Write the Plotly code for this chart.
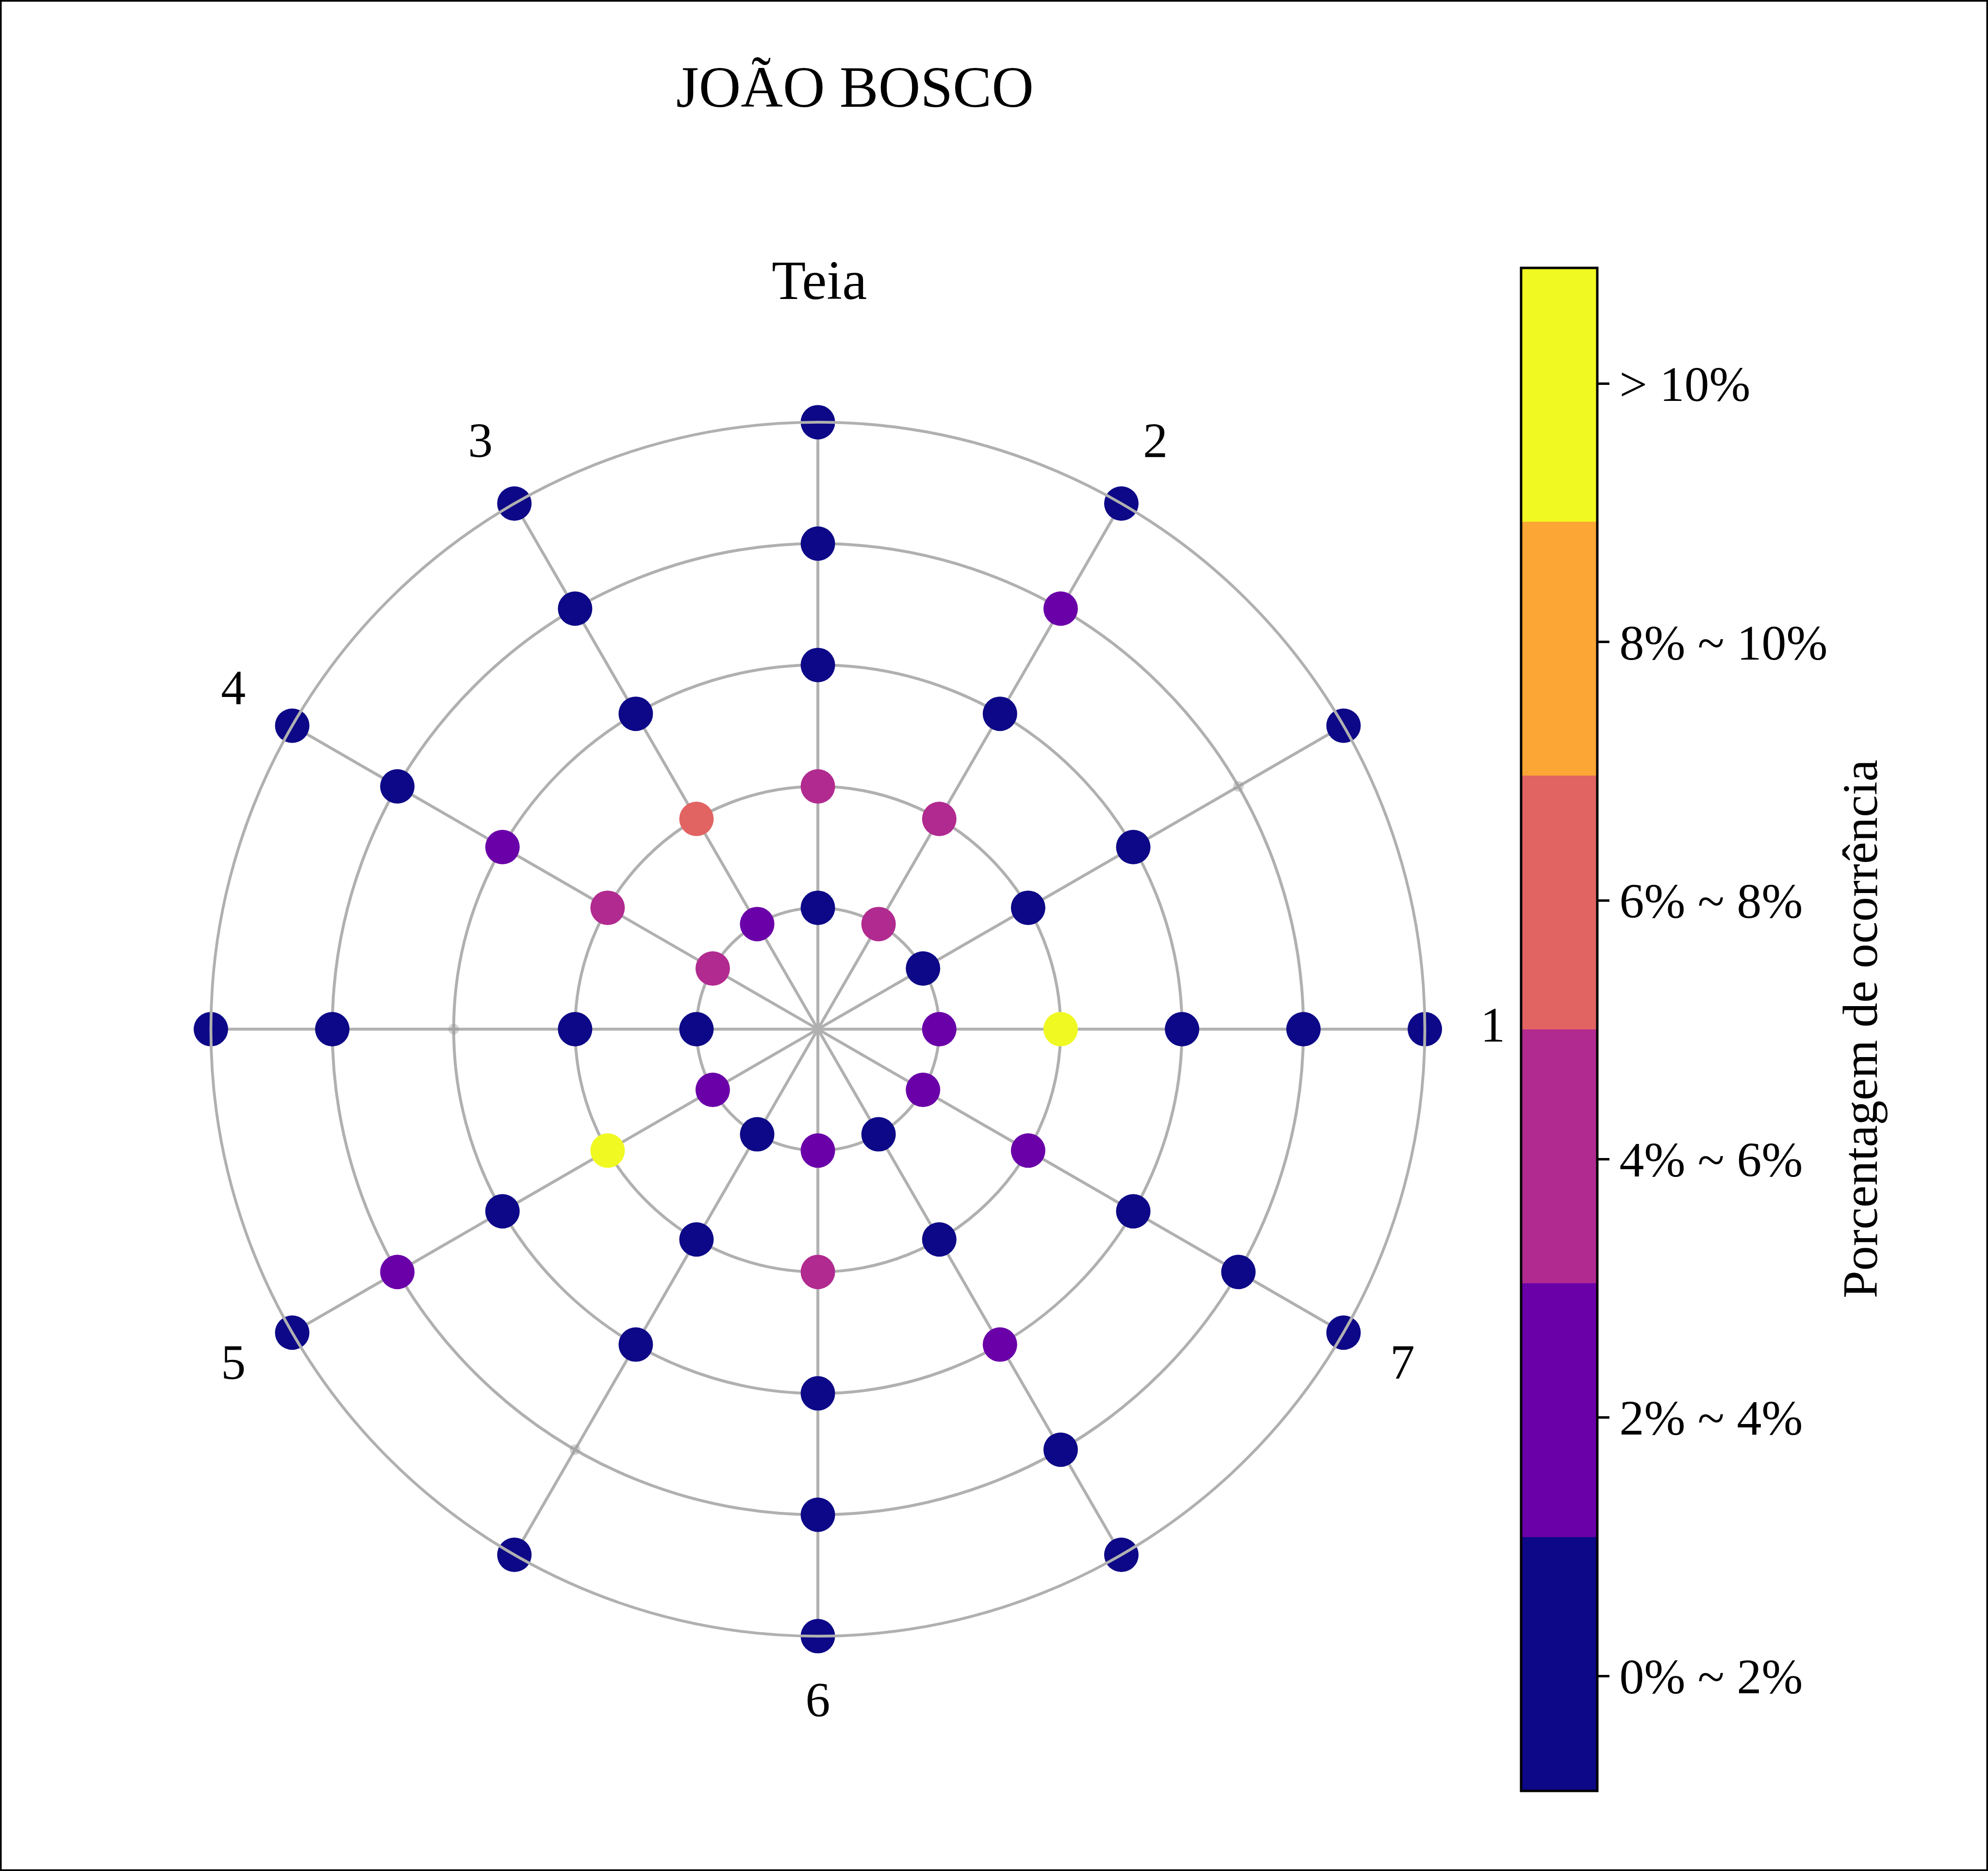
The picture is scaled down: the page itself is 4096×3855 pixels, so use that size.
import plotly.graph_objects as go

# ---------------- data ----------------
angles = [0, 30, 60, 90, 120, 150, 180, 210, 240, 270, 300, 330]
rings = [1, 2, 3, 4, 5]
nan = None
# estimated percentage of occurrence per node (ring x angle)
ring1 = [3, 1, 5, 1, 3, 5, 1, 3, 1, 3, 1, 3]
ring2 = [11, 1, 5, 5, 7, 5, 1, 11, 1, 5, 1, 3]
ring3 = [1, 1, 1, 1, 1, 3, nan, 1, 1, 1, 3, 1]
ring4 = [1, nan, 3, 1, 1, 1, 1, 3, nan, 1, 1, 1]
ring5 = [1, 1, 1, 1, 1, 1, 1, 1, 1, 1, 1, 1]
ring_values = [ring1, ring2, ring3, ring4, ring5]

degree_labels = ["1", "2", "3", "4", "5", "6", "7"]
degree_angles = [0, 60, 120, 150, 210, 270, 330]

bin_colors = ["#0d0887", "#6a00a8", "#b12a90", "#e16462", "#fca636", "#f0f921"]
bin_labels = ["0% ~ 2%", "2% ~ 4%", "4% ~ 6%", "6% ~ 8%", "8% ~ 10%", "> 10%"]
bin_edges = [0, 2, 4, 6, 8, 10, 12]
cbar_tickvals = [0.905, 2.942, 4.979, 7.015, 9.052, 11.089]

title_text = "JOÃO BOSCO"
subtitle_text = "Teia"
cbar_title = "Porcentagem de ocorrência"

# ---------------- build ----------------
FONT = "Liberation Serif"
GRID = "#b0b0b0"
LW = 5.8
W, H = 4096, 3855

# polar geometry (pixels)
CX, CY = 1685.1, 2120.5          # centre, from top-left
R_OUT = 1250.6                   # pixel radius of r = 5
R_MAX = 5
LABEL_R = 5.56
LABEL_RANGE = 5.7


def domain_for(rmax):
    rad = R_OUT * rmax / R_MAX
    yc = H - CY
    return dict(x=[(CX - rad) / W, (CX + rad) / W], y=[(yc - rad) / H, (yc + rad) / H])


cmin, cmax = bin_edges[0], bin_edges[-1]
colorscale = []
for i, c in enumerate(bin_colors):
    lo = (bin_edges[i] - cmin) / (cmax - cmin)
    hi = (bin_edges[i + 1] - cmin) / (cmax - cmin)
    colorscale.append([lo, c])
    colorscale.append([hi, c])

node_r, node_t = [], []
pt_r, pt_t, pt_v = [], [], []
for r, vals in zip(rings, ring_values):
    for a, v in zip(angles, vals):
        node_r.append(r)
        node_t.append(a)
        if v is not None:
            pt_r.append(r)
            pt_t.append(a)
            pt_v.append(v)

fig = go.Figure()

# small translucent node dots (visible where no value)
fig.add_trace(go.Scatterpolar(
    r=node_r, theta=node_t, mode="markers",
    marker=dict(size=22, color="rgba(150,150,150,0.4)", line=dict(width=0)),
    hoverinfo="skip", cliponaxis=False, showlegend=False, subplot="polar",
))

fig.add_trace(go.Scatterpolar(
    r=pt_r, theta=pt_t, mode="markers",
    marker=dict(
        size=71, color=pt_v, colorscale=colorscale, cmin=cmin, cmax=cmax,
        line=dict(width=0), opacity=1,
        showscale=True,
        colorbar=dict(
            x=3134 / W, xanchor="left", xpad=0,
            y=0.4498, yanchor="middle", ypad=0,
            len=0.814, lenmode="fraction",
            thickness=157, thicknessmode="pixels",
            outlinewidth=5, outlinecolor="black",
            tickmode="array", tickvals=cbar_tickvals, ticktext=bin_labels,
            ticks="outside", ticklen=23, tickwidth=5, tickcolor="black",
            tickfont=dict(family=FONT, size=102, color="black"),
        ),
    ),
    hoverinfo="skip", cliponaxis=False, showlegend=False, subplot="polar",
))

# degree labels on a concentric, transparent polar with a larger range
fig.add_trace(go.Scatterpolar(
    r=[LABEL_R] * len(degree_labels), theta=degree_angles, mode="text",
    text=degree_labels, textposition="middle center",
    textfont=dict(family=FONT, size=102, color="black"),
    hoverinfo="skip", cliponaxis=False, showlegend=False, subplot="polar2",
))

hidden_axis = dict(showgrid=False, showline=False, showticklabels=False, ticks="")

fig.update_layout(
    width=W, height=H,
    margin=dict(l=0, r=0, t=0, b=0),
    paper_bgcolor="white", plot_bgcolor="white",
    showlegend=False,
    polar=dict(
        domain=domain_for(R_MAX),
        bgcolor="white",
        radialaxis=dict(range=[0, R_MAX], tickvals=rings, showticklabels=False,
                        ticks="", showline=False, showgrid=True,
                        gridcolor=GRID, gridwidth=LW),
        angularaxis=dict(tickmode="array", tickvals=angles, showticklabels=False,
                         ticks="", showgrid=True, gridcolor=GRID, gridwidth=LW,
                         showline=True, linecolor=GRID, linewidth=LW,
                         rotation=0, direction="counterclockwise"),
    ),
    polar2=dict(
        domain=domain_for(LABEL_RANGE),
        bgcolor="rgba(0,0,0,0)",
        radialaxis=dict(range=[0, LABEL_RANGE], **hidden_axis),
        angularaxis=dict(rotation=0, direction="counterclockwise", **hidden_axis),
    ),
    annotations=[
        dict(text=title_text, x=1761 / W, y=(H - (220 - 0.3375 * 120)) / H,
             xref="paper", yref="paper", xanchor="center", yanchor="middle",
             showarrow=False, font=dict(family=FONT, size=120, color="black")),
        dict(text=subtitle_text, x=1688 / W, y=(H - (616 - 0.3375 * 115)) / H,
             xref="paper", yref="paper", xanchor="center", yanchor="middle",
             showarrow=False, font=dict(family=FONT, size=115, color="black")),
        dict(text=cbar_title, x=3832 / W, y=(H - 2120) / H, textangle=-90,
             xref="paper", yref="paper", xanchor="center", yanchor="middle",
             showarrow=False, font=dict(family=FONT, size=102, color="black")),
    ],
    shapes=[dict(type="rect", xref="paper", yref="paper", x0=0, y0=0, x1=1, y1=1,
                 line=dict(color="black", width=7), fillcolor="rgba(0,0,0,0)")],
)

fig.write_html("out.html")
